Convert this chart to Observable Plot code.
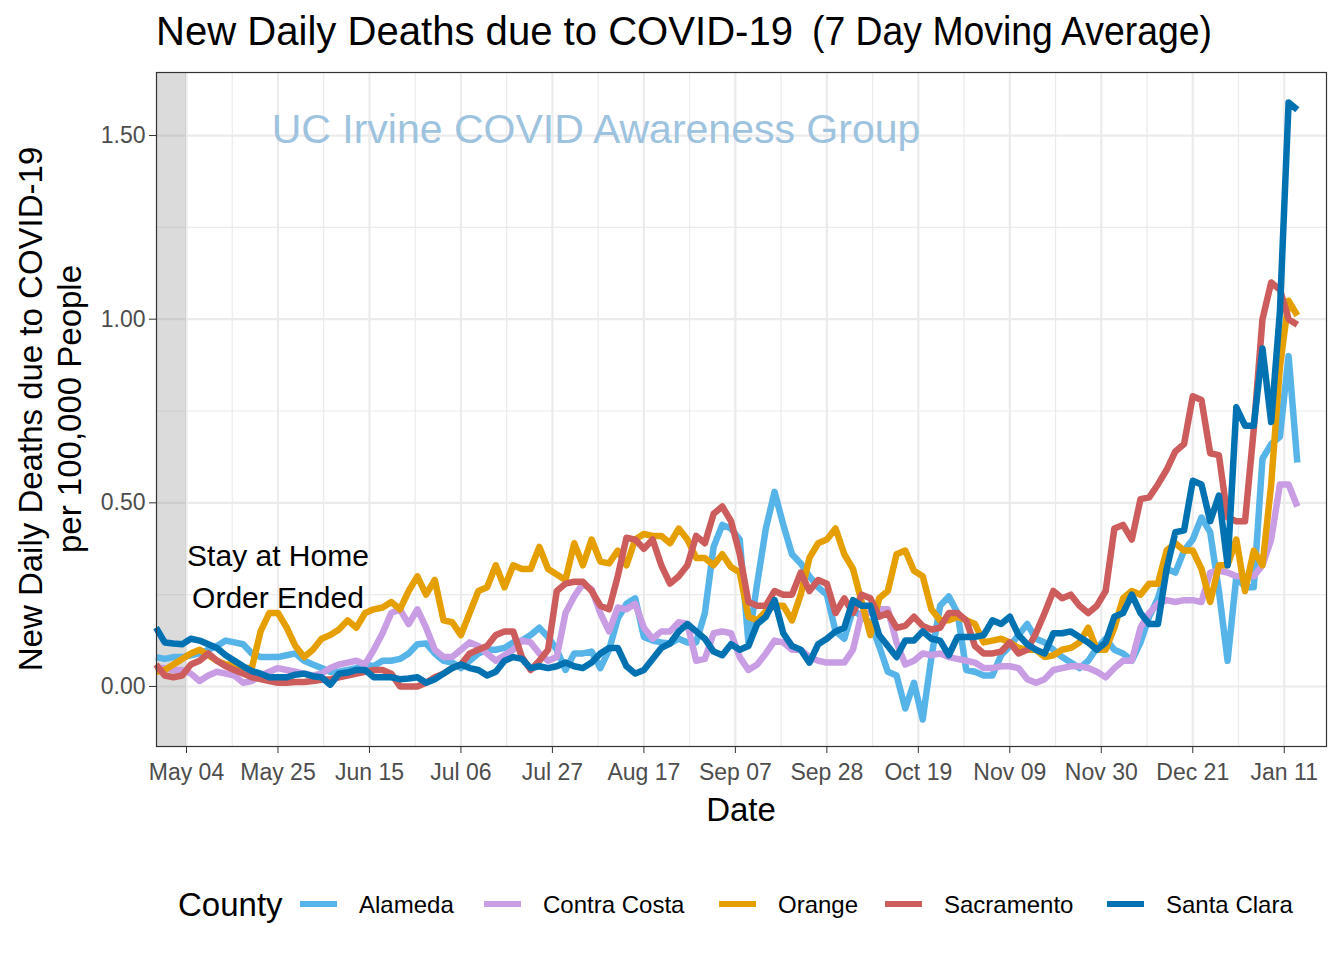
<!DOCTYPE html>
<html><head><meta charset="utf-8">
<script src="https://cdn.jsdelivr.net/npm/d3@7"></script>
<script src="https://cdn.jsdelivr.net/npm/@observablehq/plot@0.6"></script>
<style>html,body{margin:0;padding:0;background:#fff;} svg{display:block;}</style>
</head><body><div id="chart"></div>
<script>
// ---------- data ----------
const counties = ["Alameda", "Contra Costa", "Orange", "Sacramento", "Santa Clara"];
const countyColors = ["#56B4E9", "#C99DE3", "#E69F00", "#CD5C5C", "#0072B2"];
const startDate = "2020-04-27";   // first date of every series
const stepDays = 2;                // one value every 2 days

const alameda = [0.08,0.075,0.08,0.08,0.085,0.09,0.10,0.11,0.125,0.12,
0.115,0.09,0.08,0.08,0.08,0.085,0.09,0.07,0.06,0.05,
0.04,0.04,0.045,0.05,0.06,0.055,0.07,0.07,0.075,0.09,
0.115,0.117,0.09,0.07,0.065,0.05,0.07,0.09,0.10,0.10,
0.105,0.12,0.125,0.14,0.16,0.135,0.10,0.045,0.09,0.09,
0.095,0.05,0.10,0.185,0.225,0.24,0.135,0.125,0.12,0.117,
0.13,0.12,0.12,0.20,0.38,0.44,0.43,0.40,0.12,0.28,
0.43,0.53,0.44,0.36,0.335,0.30,0.27,0.25,0.15,0.13,
0.21,0.19,0.175,0.11,0.04,0.03,-0.06,0.01,-0.09,0.08,
0.22,0.245,0.20,0.045,0.04,0.03,0.03,0.085,0.11,0.14,
0.17,0.13,0.12,0.10,0.08,0.065,0.05,0.07,0.105,0.13,
0.10,0.09,0.07,0.12,0.19,0.24,0.32,0.31,0.37,0.40,
0.46,0.42,0.26,0.07,0.30,0.27,0.27,0.62,0.66,0.68,
0.90,0.61];

const contraCosta = [0.05,0.05,0.045,0.045,0.035,0.015,0.03,0.04,0.035,0.03,
0.01,0.015,0.03,0.04,0.05,0.045,0.04,0.035,0.03,0.035,
0.05,0.06,0.065,0.07,0.06,0.10,0.145,0.20,0.21,0.17,
0.21,0.16,0.10,0.08,0.08,0.10,0.12,0.11,0.09,0.07,
0.085,0.10,0.125,0.12,0.09,0.07,0.08,0.20,0.245,0.28,
0.265,0.20,0.15,0.215,0.21,0.225,0.16,0.13,0.15,0.15,
0.175,0.17,0.07,0.075,0.145,0.15,0.145,0.08,0.045,0.06,
0.09,0.125,0.12,0.10,0.10,0.08,0.07,0.065,0.065,0.065,
0.10,0.20,0.20,0.21,0.21,0.12,0.06,0.07,0.09,0.085,
0.09,0.08,0.075,0.07,0.065,0.05,0.05,0.055,0.055,0.05,
0.02,0.01,0.02,0.045,0.05,0.055,0.055,0.05,0.04,0.025,
0.05,0.07,0.07,0.16,0.20,0.225,0.235,0.23,0.235,0.235,
0.23,0.31,0.315,0.31,0.30,0.30,0.30,0.33,0.40,0.55,
0.55,0.49];

const orange = [0.04,0.045,0.06,0.075,0.09,0.10,0.085,0.07,0.06,0.06,
0.05,0.05,0.15,0.20,0.20,0.16,0.11,0.08,0.10,0.13,
0.14,0.155,0.18,0.16,0.20,0.21,0.215,0.23,0.21,0.26,
0.30,0.25,0.29,0.18,0.175,0.14,0.20,0.26,0.27,0.33,
0.27,0.33,0.32,0.32,0.38,0.32,0.305,0.29,0.39,0.33,
0.40,0.34,0.335,0.37,0.33,0.40,0.415,0.41,0.41,0.39,
0.43,0.40,0.35,0.35,0.33,0.36,0.325,0.31,0.19,0.18,
0.205,0.22,0.22,0.18,0.25,0.35,0.39,0.40,0.43,0.36,
0.32,0.23,0.14,0.24,0.26,0.36,0.37,0.315,0.30,0.21,
0.18,0.18,0.19,0.18,0.17,0.12,0.125,0.13,0.12,0.105,
0.10,0.10,0.08,0.085,0.10,0.105,0.12,0.16,0.10,0.10,
0.16,0.24,0.26,0.25,0.28,0.28,0.37,0.39,0.37,0.37,
0.32,0.23,0.33,0.33,0.40,0.26,0.37,0.33,0.55,0.87,
1.05,1.01];

const sacramento = [0.06,0.03,0.025,0.03,0.06,0.07,0.09,0.07,0.055,0.045,
0.035,0.025,0.02,0.015,0.01,0.01,0.012,0.012,0.015,0.018,
0.02,0.025,0.03,0.035,0.04,0.045,0.045,0.035,0.0,0.0,
0.0,0.01,0.025,0.035,0.05,0.06,0.09,0.10,0.11,0.14,
0.15,0.15,0.08,0.045,0.07,0.10,0.26,0.28,0.285,0.285,
0.26,0.22,0.21,0.30,0.405,0.40,0.375,0.40,0.33,0.28,
0.30,0.33,0.41,0.39,0.47,0.49,0.45,0.36,0.23,0.22,
0.22,0.26,0.25,0.25,0.31,0.26,0.29,0.28,0.20,0.24,
0.20,0.25,0.24,0.19,0.20,0.16,0.165,0.19,0.165,0.155,
0.16,0.20,0.20,0.18,0.11,0.09,0.09,0.095,0.12,0.09,
0.10,0.145,0.20,0.26,0.24,0.25,0.22,0.20,0.22,0.26,
0.43,0.44,0.40,0.51,0.515,0.55,0.59,0.64,0.66,0.79,
0.78,0.635,0.63,0.46,0.45,0.45,0.70,1.00,1.10,1.08,
1.00,0.985];

const santaClara = [0.16,0.12,0.117,0.115,0.13,0.125,0.115,0.105,0.085,0.07,
0.055,0.042,0.035,0.025,0.025,0.025,0.032,0.035,0.028,0.025,
0.005,0.035,0.038,0.045,0.045,0.025,0.025,0.025,0.02,0.022,
0.025,0.01,0.02,0.035,0.05,0.06,0.05,0.045,0.03,0.04,
0.07,0.08,0.075,0.05,0.055,0.05,0.055,0.065,0.055,0.05,
0.065,0.09,0.105,0.105,0.055,0.035,0.045,0.075,0.105,0.117,
0.15,0.17,0.15,0.13,0.095,0.085,0.115,0.10,0.11,0.17,
0.19,0.235,0.145,0.11,0.10,0.065,0.115,0.13,0.15,0.16,
0.235,0.22,0.22,0.14,0.11,0.08,0.125,0.125,0.15,0.13,
0.125,0.085,0.135,0.135,0.135,0.14,0.18,0.17,0.19,0.14,
0.115,0.10,0.09,0.145,0.145,0.15,0.135,0.12,0.10,0.12,
0.19,0.20,0.25,0.20,0.17,0.17,0.32,0.42,0.425,0.56,
0.55,0.45,0.52,0.33,0.76,0.71,0.71,0.92,0.72,1.02,
1.59,1.57];

const xTickDates = ["2020-05-04","2020-05-25","2020-06-15","2020-07-06","2020-07-27","2020-08-17",
  "2020-09-07","2020-09-28","2020-10-19","2020-11-09","2020-11-30","2020-12-21","2021-01-11"];
const yTicks = [0, 0.5, 1, 1.5];
const yMinorTicks = [0.25, 0.75, 1.25];
const orderEnded = "2020-05-04";
const titleParts = ["New Daily Deaths due to COVID-19", "(7 Day Moving Average)"];
const yTitleLines = ["New Daily Deaths due to COVID-19", "per 100,000 People"];
const xTitle = "Date";
const legendTitle = "County";
const noteText = "Stay at Home\nOrder Ended";
const noteAt = {date: "2020-05-25", value: 0.307};
const watermarkText = "UC Irvine COVID Awareness Group";
const watermarkAt = {date: "2020-08-06", value: 1.515};

// ---------- build table ----------
const DAY = 864e5;
const t0 = Date.parse(startDate + "T00:00:00Z");
const seriesValues = [alameda, contraCosta, orange, sacramento, santaClara];
const rows = [];
counties.forEach((c, k) => seriesValues[k].forEach((v, i) =>
  rows.push({county: c, date: new Date(t0 + i * stepDays * DAY), value: v})));

const parse = s => new Date(Date.parse(s + "T00:00:00Z"));
const tickDates = xTickDates.map(parse);
const minorDates = tickDates.slice(0, -1).map(d => new Date(+d + 10.5 * DAY));
const may4 = parse(orderEnded);
const xDomain = [new Date(+may4 - 6.887 * DAY), new Date(+may4 + 261.7 * DAY)];
const yDomain = [-0.1634, 1.6716];
const FONT = "'Liberation Sans', Arial, Helvetica, sans-serif";

const plot = Plot.plot({
  width: 1344, height: 960,
  marginLeft: 156, marginRight: 18, marginTop: 72, marginBottom: 214,
  style: {fontFamily: FONT, background: "#fff"},
  x: {type: "utc", domain: xDomain},
  y: {domain: yDomain},
  color: {domain: counties, range: countyColors},
  marks: [
    Plot.ruleX(minorDates, {stroke: "#EBEBEB", strokeWidth: 1.2}),
    Plot.ruleY(yMinorTicks, {stroke: "#EBEBEB", strokeWidth: 1.2}),
    Plot.ruleX(tickDates, {stroke: "#EBEBEB", strokeWidth: 2.2}),
    Plot.ruleY(yTicks, {stroke: "#EBEBEB", strokeWidth: 2.2}),
    Plot.rect([{a: xDomain[0], b: may4}], {x1: "a", x2: "b", y1: () => yDomain[0], y2: () => yDomain[1], fill: "#888", fillOpacity: 0.3}),
    Plot.text([watermarkAt], {x: d => parse(d.date), y: "value", text: () => watermarkText, fill: "#9DC3DE", fontSize: 41}),
    Plot.line(rows, {x: "date", y: "value", z: "county", stroke: "county", strokeWidth: 6.5, strokeLinejoin: "round", strokeLinecap: "butt"}),
    Plot.text([noteAt], {x: d => parse(d.date), y: "value", text: () => noteText, fill: "#000", fontSize: 30, lineHeight: 1.4}),
    Plot.frame({stroke: "#333", strokeWidth: 1.2}),
    Plot.axisX({ticks: tickDates, tickFormat: d3.utcFormat("%b %d"), tickSize: 7, tickPadding: 10, fontSize: 23, stroke: "#333", fill: "#4d4d4d", label: null}),
    Plot.axisY({ticks: yTicks, tickFormat: d3.format(".2f"), tickSize: 7, tickPadding: 4, fontSize: 23, stroke: "#333", fill: "#4d4d4d", label: null})
  ]
});
document.getElementById("chart").appendChild(plot);

// ---------- titles and legend ----------
const svg = d3.select(plot);
const tt = svg.append("text").attr("y", 45).attr("text-anchor", "start").attr("font-size", 40).attr("fill", "#000")
  .attr("font-family", FONT);
tt.append("tspan").attr("x", 156).attr("textLength", 637).attr("lengthAdjust", "spacingAndGlyphs").text(titleParts[0]);
tt.append("tspan").attr("x", 812).attr("textLength", 400).attr("lengthAdjust", "spacingAndGlyphs").text(titleParts[1]);
svg.append("text").attr("x", 741).attr("y", 821).attr("text-anchor", "middle").attr("font-size", 33)
  .attr("font-family", FONT).attr("fill", "#000").text(xTitle);
const yt = svg.append("text").attr("transform", "translate(0,409) rotate(-90)").attr("text-anchor", "middle")
  .attr("font-size", 33).attr("font-family", FONT).attr("fill", "#000");
yTitleLines.forEach((s, i) => yt.append("tspan").attr("x", 0).attr("y", i === 0 ? 42 : 81).text(s));

const color = plot.scale("color");
const lg = svg.append("g").attr("font-family", FONT).attr("text-anchor", "start");
lg.append("text").attr("x", 178).attr("y", 916).attr("font-size", 33).attr("fill", "#000").text(legendTitle);
const keyX = [300, 484, 719, 885, 1107];
counties.forEach((c, i) => {
  lg.append("line").attr("x1", keyX[i]).attr("x2", keyX[i] + 37).attr("y1", 904).attr("y2", 904)
    .attr("stroke", color.apply(c)).attr("stroke-width", 6);
  lg.append("text").attr("x", keyX[i] + 59).attr("y", 913).attr("font-size", 24).attr("fill", "#000").text(c);
});
</script></body></html>
